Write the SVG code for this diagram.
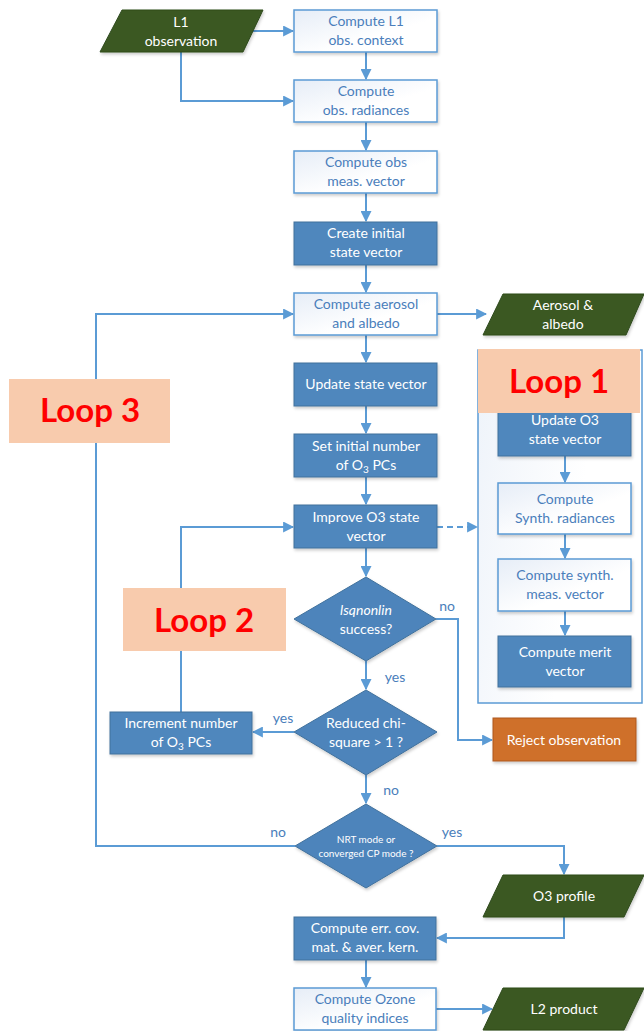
<svg xmlns="http://www.w3.org/2000/svg" width="644" height="1031" viewBox="0 0 644 1031">
<defs>
<linearGradient id="lg" x1="0" y1="0" x2="1" y2="1">
<stop offset="0" stop-color="#e6edf7"/>
<stop offset="0.6" stop-color="#ffffff"/>
</linearGradient>
<linearGradient id="fg" x1="0" y1="0" x2="1" y2="0.3">
<stop offset="0" stop-color="#eef3fa"/>
<stop offset="0.7" stop-color="#ffffff"/>
</linearGradient>
<filter id="sh" x="-10%" y="-10%" width="130%" height="140%">
<feDropShadow dx="1" dy="2" stdDeviation="1.5" flood-color="#000" flood-opacity="0.2"/>
</filter>
<marker id="ah" viewBox="0 0 10 10" refX="9" refY="5" markerWidth="5.5" markerHeight="5.5" orient="auto" markerUnits="strokeWidth">
<path d="M0,0 L10,5 L0,10 Z" fill="#5b9bd5"/>
</marker>
</defs>
<style>
.lt{fill:url(#lg);stroke:#5b9bd5;stroke-width:1.5;filter:url(#sh)}
.dk{fill:#4f87bd;stroke:#41719c;stroke-width:1;filter:url(#sh)}
.dm{fill:#4d84bb;stroke:#41719c;stroke-width:1;filter:url(#sh)}
.gr{fill:#3b5823;stroke:#2e4a1b;stroke-width:1;filter:url(#sh)}
.or{fill:#cf6f2b;stroke:#ae5a1f;stroke-width:1;filter:url(#sh)}
.pe{fill:#f8cbad}
text{font-family:Lato,"Liberation Sans",sans-serif;font-size:14px;text-anchor:middle}
.tb{fill:#4a7ebb}
.tw{fill:#ffffff}
.lbl{fill:#4a7ebb;font-size:14px}
.loop{fill:#ff0000;font-weight:bold;font-size:33px}
.c{fill:none;stroke:#5b9bd5;stroke-width:2}
.ca{fill:none;stroke:#5b9bd5;stroke-width:2;marker-end:url(#ah)}
.sub{font-size:10px}
</style>

<g id="loop1-frame">
<rect x="478" y="350" width="164" height="353" fill="url(#fg)" stroke="#5b9bd5" stroke-width="1.5"/>
</g>

<g id="connectors">
<path class="ca" d="M252,31 H293"/>
<path class="ca" d="M181,52 V101 H293"/>
<path class="ca" d="M366,52 V79"/>
<path class="ca" d="M366,122 V150"/>
<path class="ca" d="M366,193 V221"/>
<path class="ca" d="M366,265 V292"/>
<path class="ca" d="M437,314 H486"/>
<path class="ca" d="M366,335 V362"/>
<path class="ca" d="M366,406 V433"/>
<path class="ca" d="M366,477 V504"/>
<path class="ca" d="M437,527 H477" stroke-dasharray="6,4"/>
<path class="ca" d="M366,548 V576"/>
<path class="ca" d="M366,661 V689"/>
<path class="ca" d="M436,619 H458 V740 H492"/>
<path class="ca" d="M294,732 H253"/>
<path class="ca" d="M181,712 V527 H293"/>
<path class="ca" d="M366,775 V803"/>
<path class="ca" d="M295,846 H96 V314 H293"/>
<path class="ca" d="M437,846 H564 V874"/>
<path class="ca" d="M564,917 V938 H437"/>
<path class="ca" d="M366,960 V987"/>
<path class="ca" d="M436,1009 H492"/>
<path class="ca" d="M565,456 V482"/>
<path class="ca" d="M565,534 V558"/>
<path class="ca" d="M565,611 V635"/>
</g>

<g id="n-l1obs">
<polygon class="gr" points="122,10 263,10 243,52 100,52"/>
<text class="tw" x="181" y="27">L1</text>
<text class="tw" x="181" y="46">observation</text>
</g>
<g id="n-ctx">
<rect class="lt" x="294" y="10" width="143" height="42"/>
<text class="tb" x="366" y="26">Compute L1</text>
<text class="tb" x="366" y="45">obs. context</text>
</g>
<g id="n-rad">
<rect class="lt" x="294" y="80" width="143" height="42"/>
<text class="tb" x="366" y="96">Compute</text>
<text class="tb" x="366" y="115">obs. radiances</text>
</g>
<g id="n-meas">
<rect class="lt" x="294" y="151" width="143" height="42"/>
<text class="tb" x="366" y="167">Compute obs</text>
<text class="tb" x="366" y="186">meas. vector</text>
</g>
<g id="n-init">
<rect class="dk" x="294" y="222" width="143" height="43"/>
<text class="tw" x="366" y="238">Create initial</text>
<text class="tw" x="366" y="257">state vector</text>
</g>
<g id="n-aer">
<rect class="lt" x="294" y="293" width="143" height="42"/>
<text class="tb" x="366" y="309">Compute aerosol</text>
<text class="tb" x="366" y="328">and albedo</text>
</g>
<g id="n-aerout">
<polygon class="gr" points="503,294 644,294 644,294 626,335 483,335"/>
<text class="tw" x="563" y="310">Aerosol &amp;</text>
<text class="tw" x="563" y="329">albedo</text>
</g>
<g id="n-upd">
<rect class="dk" x="294" y="363" width="143" height="43"/>
<text class="tw" x="366" y="389">Update state vector</text>
</g>
<g id="n-setpc">
<rect class="dk" x="294" y="434" width="143" height="43"/>
<text class="tw" x="366" y="451">Set initial number</text>
<text class="tw" x="366" y="470">of O<tspan class="sub" dy="3">3</tspan><tspan dy="-3"> PCs</tspan></text>
</g>
<g id="n-improve">
<rect class="dk" x="294" y="505" width="143" height="43"/>
<text class="tw" x="366" y="522">Improve O3 state</text>
<text class="tw" x="366" y="541">vector</text>
</g>
<g id="n-updo3">
<rect class="dk" x="498" y="404" width="133" height="52"/>
<text class="tw" x="565" y="425">Update O3</text>
<text class="tw" x="565" y="444">state vector</text>
</g>
<g id="n-synrad">
<rect class="lt" x="498" y="483" width="133" height="51"/>
<text class="tb" x="565" y="504">Compute</text>
<text class="tb" x="565" y="523">Synth. radiances</text>
</g>
<g id="n-synmeas">
<rect class="lt" x="498" y="559" width="133" height="52"/>
<text class="tb" x="565" y="580">Compute synth.</text>
<text class="tb" x="565" y="599">meas. vector</text>
</g>
<g id="n-merit">
<rect class="dk" x="498" y="636" width="133" height="51"/>
<text class="tw" x="565" y="657">Compute merit</text>
<text class="tw" x="565" y="676">vector</text>
</g>
<g id="n-loop1">
<rect class="pe" x="478" y="349" width="162" height="64"/>
<text class="loop" x="559" y="393">Loop 1</text>
</g>
<g id="n-loop3">
<rect class="pe" x="9" y="379" width="161" height="64"/>
<text class="loop" x="90" y="422">Loop 3</text>
</g>
<g id="n-loop2">
<rect class="pe" x="123" y="588" width="163" height="63"/>
<text class="loop" x="204" y="632">Loop 2</text>
</g>
<g id="n-lsq">
<polygon class="dm" points="366,577 436,619 366,661 294,619"/>
<text class="tw" x="366" y="615" font-style="italic">lsqnonlin</text>
<text class="tw" x="366" y="634">success?</text>
</g>
<g id="n-chi">
<polygon class="dm" points="366,690 437,732 366,775 294,732"/>
<text class="tw" x="366" y="728">Reduced chi-</text>
<text class="tw" x="366" y="747">square &gt; 1 ?</text>
</g>
<g id="n-incr">
<rect class="dk" x="110" y="712" width="142" height="42"/>
<text class="tw" x="181" y="728">Increment number</text>
<text class="tw" x="181" y="747">of O<tspan class="sub" dy="3">3</tspan><tspan dy="-3"> PCs</tspan></text>
</g>
<g id="n-reject">
<rect class="or" x="493" y="718" width="143" height="43"/>
<text class="tw" x="564" y="745">Reject observation</text>
</g>
<g id="n-nrt">
<polygon class="dm" points="366,804 437,846 366,888 295,846"/>
<text class="tw" x="366" y="843" style="font-size:10px">NRT mode or</text>
<text class="tw" x="366" y="857" style="font-size:10px">converged CP mode ?</text>
</g>
<g id="n-o3">
<polygon class="gr" points="503,875 644,875 644,875 624,917 483,917"/>
<text class="tw" x="564" y="901">O3 profile</text>
</g>
<g id="n-errcov">
<rect class="dk" x="294" y="917" width="142" height="43"/>
<text class="tw" x="365" y="933">Compute err. cov.</text>
<text class="tw" x="365" y="952">mat. &amp; aver. kern.</text>
</g>
<g id="n-quality">
<rect class="lt" x="294" y="988" width="142" height="42"/>
<text class="tb" x="365" y="1004">Compute Ozone</text>
<text class="tb" x="365" y="1023">quality indices</text>
</g>
<g id="n-l2">
<polygon class="gr" points="503,988 644,988 644,988 624,1030 483,1030"/>
<text class="tw" x="564" y="1014">L2 product</text>
</g>

<g id="labels">
<text class="lbl" x="447" y="611">no</text>
<text class="lbl" x="395" y="682">yes</text>
<text class="lbl" x="283" y="723">yes</text>
<text class="lbl" x="391" y="795">no</text>
<text class="lbl" x="278" y="837">no</text>
<text class="lbl" x="452" y="837">yes</text>
</g>
</svg>
